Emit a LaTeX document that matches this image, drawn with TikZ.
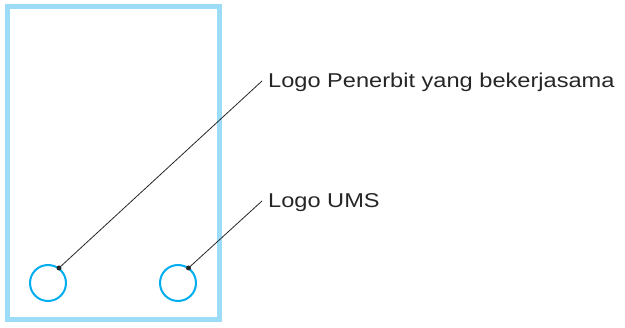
\documentclass[tikz,border=0pt]{standalone}
\usepackage{fontspec}
\setmainfont{Liberation Sans}
\newfontfamily\lblfont[FakeStretch=1.18]{Liberation Sans}
\definecolor{frameblue}{HTML}{9DDCF7}
\definecolor{logocyan}{HTML}{00AEEF}
\tikzset{
  frame/.style={draw=frameblue, line width=5pt},
  logo/.style={draw=logocyan, line width=2pt, circle, minimum size=36pt, inner sep=0pt},
  leader/.style={draw=black!85, line width=0.8pt},
  dot/.style={circle, fill=black!85, inner sep=0pt, minimum size=5pt},
  lbl/.style={anchor=base west, inner sep=0pt, font=\lblfont\fontsize{20}{24}\selectfont, text=black!85}
}
\begin{document}
\begin{tikzpicture}[x=1pt,y=-1pt]
\useasboundingbox (0,0) rectangle (625,328);
\draw[frame] (7.5,7) rectangle (219.5,320);
\node[logo] (c1) at (48,283) {};
\node[logo] (c2) at (178,283) {};
\node[dot] (d1) at (59,268) {};
\node[dot] (d2) at (188.5,268) {};
\coordinate (e1) at (262,81);
\coordinate (e2) at (262,201);
\node[lbl] (t1) at (268,88) {Logo Penerbit yang bekerjasama};
\node[lbl] (t2) at (268,207.5) {Logo UMS};
\draw[leader] (d1.center) -- (e1);
\draw[leader] (d2.center) -- (e2);
\end{tikzpicture}
\end{document}
